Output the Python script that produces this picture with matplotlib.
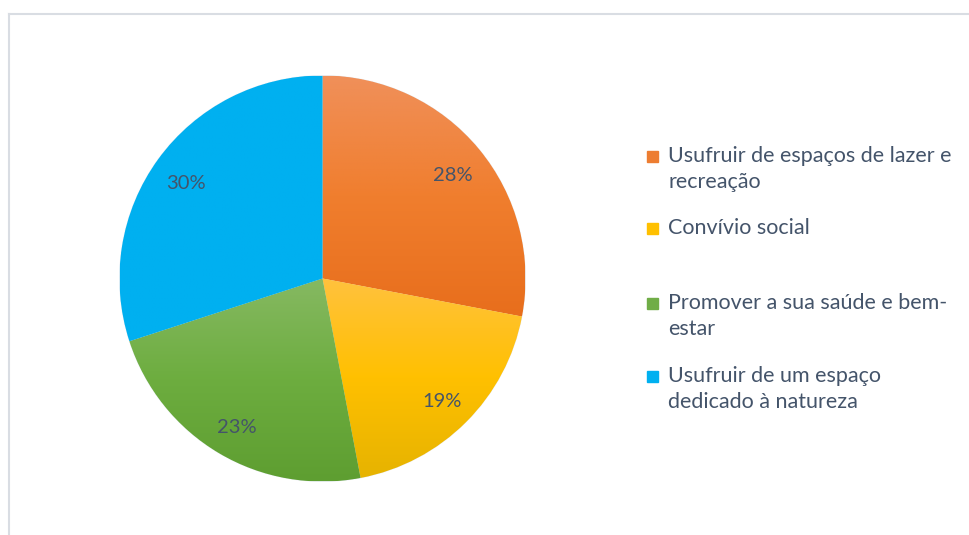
import numpy as np
import matplotlib
matplotlib.use("Agg")
import matplotlib.pyplot as plt
from matplotlib.colors import LinearSegmentedColormap
from matplotlib.lines import Line2D
from matplotlib.patches import Rectangle

# Data
categories = ["Usufruir de espaços de lazer e\nrecreação",
              "Convívio social",
              "Promover a sua saúde e bem-\nestar",
              "Usufruir de um espaço\ndedicado à natureza"]
shares = [28, 19, 23, 30]

# gradient stops (top, middle, bottom) per slice
slice_colors = [("#F0905A", "#F07E2E", "#E86E1C"),
                ("#FFC23E", "#FFC000", "#E6B300"),
                ("#86B962", "#6DAD3F", "#5E9E31"),
                ("#00B0F0", "#00B0F0", "#00B0F0")]
legend_colors = ["#ED7D31", "#FFC000", "#70AD47", "#00B0F0"]
text_color = "#44546A"

plt.rcParams['font.family'] = ['Lato', 'DejaVu Sans']

W, H = 969, 535
fig = plt.figure(figsize=(W / 100, H / 100), dpi=100)

# frame of the chart area
fig.add_artist(Line2D([9 / W, 1.0], [1 - 14 / H, 1 - 14 / H], color="#D9DDE3", lw=1.5))
fig.add_artist(Line2D([9 / W, 9 / W], [1 - 14 / H, 0.0], color="#D9DDE3", lw=1.5))

cx, cy, r = 322.5, 278.5, 203
ax = fig.add_axes([(cx - r) / W, (H - cy - r) / H, 2 * r / W, 2 * r / H])

wedges, texts, autotexts = ax.pie(
    shares, startangle=90, counterclock=False, radius=1,
    colors=[c[1] for c in slice_colors],
    autopct="%1.0f%%", pctdistance=0.83,
    wedgeprops=dict(edgecolor="#E8EEF4", linewidth=0.6),
    textprops=dict(color=text_color, fontsize=14.5))

# vertical gradient fill clipped to each wedge
grad = np.linspace(0, 1, 256).reshape(-1, 1)
for w, cols in zip(wedges, slice_colors):
    bb = w.get_path().get_extents()
    cmap = LinearSegmentedColormap.from_list("g", list(cols))
    im = ax.imshow(grad, cmap=cmap, aspect="auto", origin="upper",
                   extent=(bb.x0, bb.x1, bb.y0, bb.y1), zorder=w.get_zorder(),
                   interpolation="bilinear")
    im.set_clip_path(w)
for t in autotexts:
    x, y = t.get_position()
    t.set_position((x, y - 0.02))
    t.set_zorder(5)

ax.set_xlim(-1, 1)
ax.set_ylim(-1, 1)
ax.set_aspect("equal")
ax.axis("off")

# legend, laid out as in the original
legend_y = [156, 228, 303, 376]
for label, col, y in zip(categories, legend_colors, legend_y):
    fig.add_artist(Rectangle((647 / W, 1 - (y + 6) / H), 11 / W, 11 / H,
                             transform=fig.transFigure, color=col))
    fig.text(668 / W, 1 - (y - 10) / H, label, ha="left", va="top",
             color=text_color, fontsize=15.5, linespacing=1.4)

fig.savefig("out.png", dpi=100)
